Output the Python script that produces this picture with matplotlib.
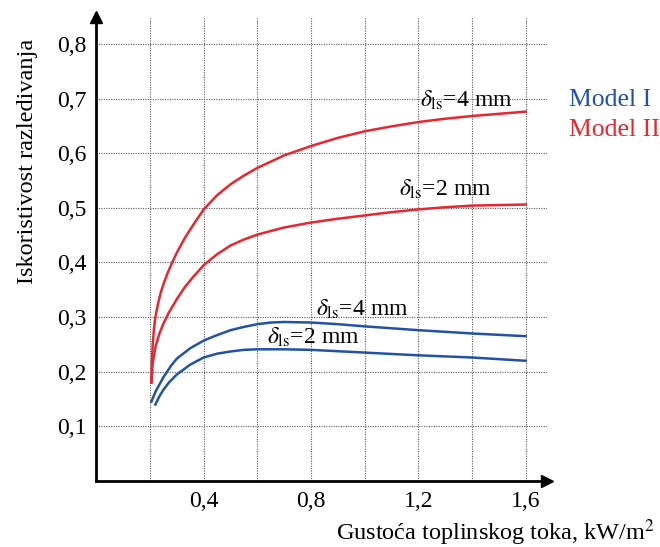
import numpy as np
import matplotlib
matplotlib.use('Agg')
import matplotlib.pyplot as plt

plt.rcParams['font.family'] = ['Liberation Serif', 'DejaVu Serif']
plt.rcParams['mathtext.fontset'] = 'stix'

# Model II (red)
x_r4 = [0.205, 0.207, 0.21, 0.215, 0.22, 0.23, 0.24, 0.25, 0.265, 0.28, 0.30, 0.33, 0.36, 0.40, 0.45, 0.50, 0.55, 0.60, 0.70, 0.80, 0.90, 1.00, 1.10, 1.20, 1.30, 1.40, 1.50, 1.60]
y_r4 = [0.18, 0.22, 0.25, 0.28, 0.30, 0.325, 0.345, 0.36, 0.38, 0.397, 0.418, 0.445, 0.468, 0.497, 0.523, 0.543, 0.559, 0.573, 0.596, 0.613, 0.628, 0.640, 0.649, 0.657, 0.663, 0.668, 0.672, 0.676]
x_r2 = [0.205, 0.21, 0.22, 0.235, 0.25, 0.27, 0.30, 0.33, 0.36, 0.40, 0.45, 0.50, 0.55, 0.60, 0.70, 0.80, 0.90, 1.00, 1.10, 1.20, 1.30, 1.40, 1.50, 1.60]
y_r2 = [0.18, 0.215, 0.245, 0.27, 0.288, 0.308, 0.333, 0.355, 0.373, 0.395, 0.415, 0.431, 0.442, 0.451, 0.464, 0.473, 0.480, 0.486, 0.492, 0.497, 0.501, 0.504, 0.505, 0.506]

# Model I (blue)
x_b4 = [0.205, 0.22, 0.25, 0.28, 0.30, 0.35, 0.40, 0.45, 0.50, 0.55, 0.60, 0.65, 0.70, 0.80, 0.90, 1.00, 1.20, 1.40, 1.60]
y_b4 = [0.145, 0.163, 0.19, 0.212, 0.224, 0.243, 0.257, 0.267, 0.276, 0.282, 0.287, 0.290, 0.291, 0.290, 0.287, 0.283, 0.276, 0.270, 0.265]
x_b2 = [0.22, 0.235, 0.25, 0.27, 0.30, 0.35, 0.40, 0.45, 0.50, 0.55, 0.60, 0.70, 0.80, 1.00, 1.20, 1.40, 1.60]
y_b2 = [0.14, 0.155, 0.167, 0.18, 0.195, 0.213, 0.226, 0.233, 0.237, 0.240, 0.241, 0.241, 0.240, 0.235, 0.230, 0.226, 0.220]

xticks = [0.4, 0.8, 1.2, 1.6]
xgrid = [0.2, 0.4, 0.6, 0.8, 1.0, 1.2, 1.4, 1.6]
yticks = [0.1, 0.2, 0.3, 0.4, 0.5, 0.6, 0.7, 0.8]

red = '#e8262f'
blue = '#2152a8'

fig = plt.figure(figsize=(6.6, 5.47), dpi=100)
ax = fig.add_axes([0.146, 0.1207, 0.683, 0.849])

ax.plot(x_r4, y_r4, color=red, lw=1.8)
ax.plot(x_r2, y_r2, color=red, lw=1.8)
ax.plot(x_b4, y_b4, color=blue, lw=1.8)
ax.plot(x_b2, y_b2, color=blue, lw=1.8)

ax.set_xlim(0, 1.68)
ax.set_ylim(0, 0.85)

ax.set_xticks(xticks)
ax.set_xticklabels([f'{v:.1f}'.replace('.', ',') for v in xticks])
ax.set_xticks(xgrid, minor=True)
ax.set_yticks(yticks)
ax.set_yticklabels([f'{v:.1f}'.replace('.', ',') for v in yticks])
ax.tick_params(which='both', length=0, labelsize=17, pad=7)
ax.grid(which='both', color='0.35', linestyle=(0, (1, 1.2)), lw=0.8)

# axes with arrows
for s in ['top', 'right']:
    ax.spines[s].set_visible(False)
ax.spines['left'].set_linewidth(2)
ax.spines['bottom'].set_linewidth(2)
ax.plot(1, 0, '>k', ms=9, transform=ax.transAxes, clip_on=False)
ax.plot(0, 1, '^k', ms=9, transform=ax.transAxes, clip_on=False)

# curve labels
lab = r'$\delta_{\mathrm{ls}}$=%d mm'
ax.text(1.38, 0.697, lab % 4, fontsize=17, ha='center', va='center')
ax.text(1.30, 0.533, lab % 2, fontsize=17, ha='center', va='center')
ax.text(0.99, 0.314, lab % 4, fontsize=17, ha='center', va='center')
ax.text(0.81, 0.263, lab % 2, fontsize=17, ha='center', va='center')

# legend-like text
fig.text(0.862, 0.817, 'Model I', color=blue, fontsize=18.5, va='center')
fig.text(0.862, 0.762, 'Model II', color=red, fontsize=18.5, va='center')

fig.text(0.042, 0.705, 'Iskoristivost razledivanja', rotation=90, fontsize=17.5, ha='center', va='center')
fig.text(0.993, 0.026, 'Gustoća toplinskog toka, kW/m$^2$', fontsize=17.5, ha='right', va='center')

fig.savefig('out.png', dpi=100)
